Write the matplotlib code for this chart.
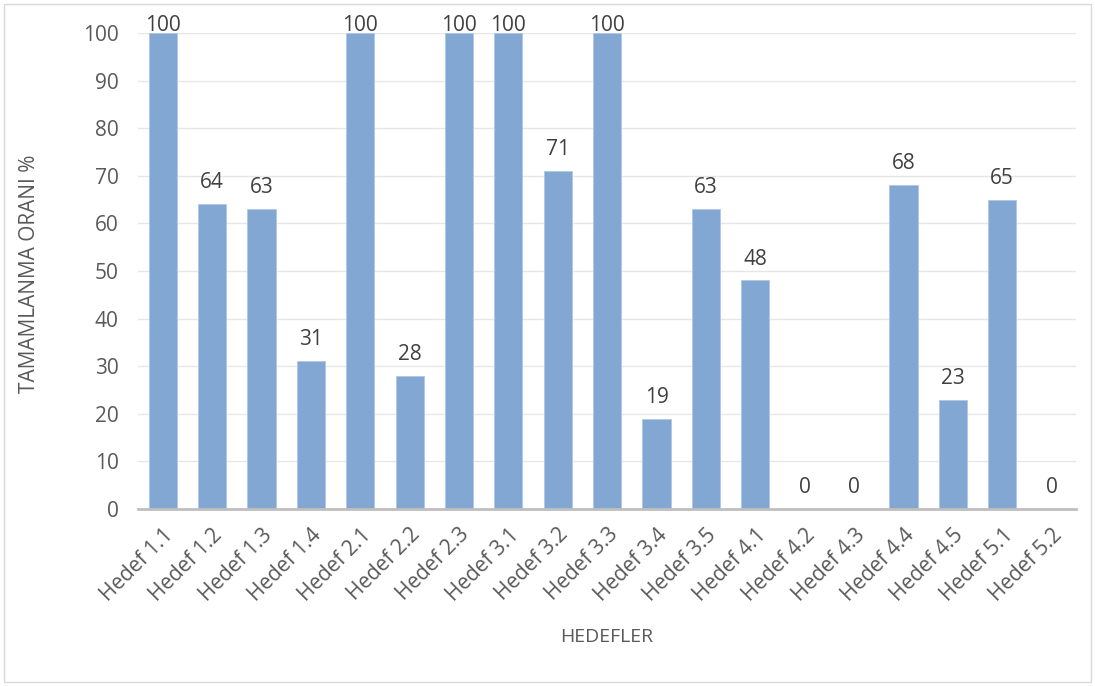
import numpy as np
import matplotlib.pyplot as plt
from matplotlib.patches import Rectangle

# Data
hedefler = ['Hedef 1.1', 'Hedef 1.2', 'Hedef 1.3', 'Hedef 1.4', 'Hedef 2.1',
            'Hedef 2.2', 'Hedef 2.3', 'Hedef 3.1', 'Hedef 3.2', 'Hedef 3.3',
            'Hedef 3.4', 'Hedef 3.5', 'Hedef 4.1', 'Hedef 4.2', 'Hedef 4.3',
            'Hedef 4.4', 'Hedef 4.5', 'Hedef 5.1', 'Hedef 5.2']
oranlar = [100, 64, 63, 31, 100, 28, 100, 100, 71, 100,
           19, 63, 48, 0, 0, 68, 23, 65, 0]
y_ticks = [0, 10, 20, 30, 40, 50, 60, 70, 80, 90, 100]

text_color = '#595959'
plt.rcParams['font.family'] = ['Open Sans', 'DejaVu Sans']

fig = plt.figure(figsize=(10.95, 6.86), dpi=100)
fig.patch.set_facecolor('white')
ax = fig.add_axes([0.126, 0.258, 0.857, 0.694])

x = np.arange(len(hedefler))
ax.bar(x, oranlar, width=0.57, color='#81A7D2', edgecolor='#AFC8E6',
       linewidth=0.6, zorder=3)

# value labels
for xi, v in zip(x, oranlar):
    ax.text(xi, v + 2.3 if v < 100 else v - 0.6, str(v), ha='center',
            va='bottom', fontsize=15, color='#404040', zorder=4)

ax.set_xlim(-0.5, len(hedefler) - 0.5)
ax.set_ylim(0, 100)
ax.set_yticks(y_ticks)
ax.set_yticklabels([str(t) for t in y_ticks], fontsize=15, color=text_color)
ax.set_xticks(x)
ax.set_xticklabels(hedefler, rotation=45, ha='right', rotation_mode='anchor',
                   fontsize=15, color=text_color)
ax.tick_params(axis='both', length=0)
ax.tick_params(axis='y', pad=14)
ax.tick_params(axis='x', pad=11)

ax.grid(axis='y', color='#E6E6E6', linewidth=1, zorder=0)
for side in ['top', 'right', 'left']:
    ax.spines[side].set_visible(False)
ax.spines['bottom'].set_color('#BFBFBF')
ax.spines['bottom'].set_linewidth(2)
ax.spines['bottom'].set_zorder(5)

fig.text(607 / 1095, 1 - 637 / 686, 'HEDEFLER', fontsize=14, color=text_color,
         ha='center', va='center')
fig.text(30 / 1095, 1 - 274 / 686, 'TAMAMLANMA ORANI %', fontsize=15,
         color=text_color, ha='center', va='center', rotation=90)

# outer border
fig.patches.append(Rectangle((0.004, 0.006), 0.992, 0.988, transform=fig.transFigure,
                             fill=False, edgecolor='#D9D9D9', linewidth=1))

fig.savefig('out.png', dpi=100, facecolor='white')
